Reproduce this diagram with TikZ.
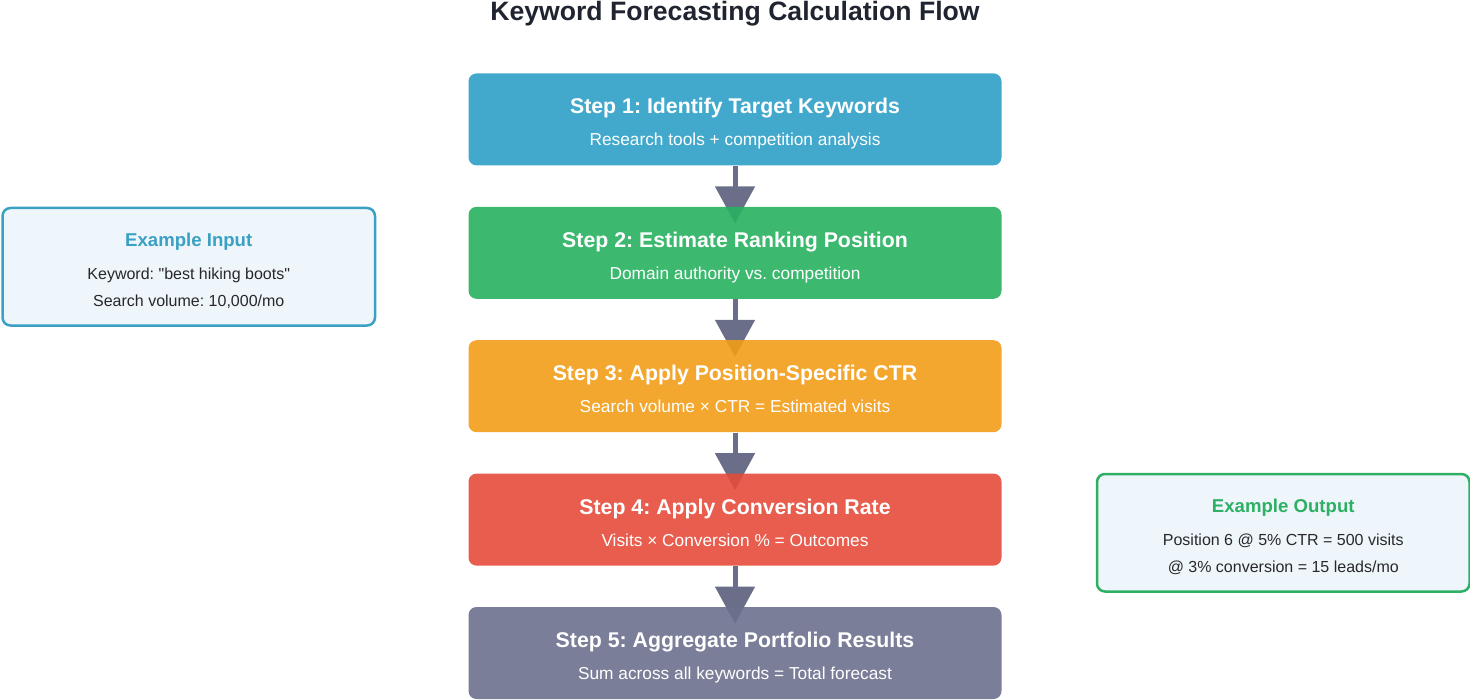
\documentclass[tikz,border=0pt]{standalone}
\usepackage{fontspec}
\setmainfont{Liberation Sans}
\usepackage{tikz}
\usetikzlibrary{arrows.meta}
\usetikzlibrary{positioning}
\pgfdeclarelayer{back}
\pgfsetlayers{back,main}
\frenchspacing
\definecolor{stepone}{RGB}{45,160,199}
\definecolor{steptwo}{RGB}{39,177,95}
\definecolor{stepthree}{RGB}{242,157,23}
\definecolor{stepfour}{RGB}{229,75,58}
\definecolor{stepfive}{RGB}{108,112,141}
\definecolor{arrowgray}{RGB}{106,110,136}
\definecolor{sidefill}{RGB}{239,246,251}
\definecolor{inputblue}{RGB}{58,160,196}
\definecolor{outputgreen}{RGB}{46,176,100}
\definecolor{titleink}{RGB}{31,36,48}
\definecolor{sideink}{RGB}{40,40,44}
\tikzset{
    stepbox/.style={rounded corners=4pt, minimum width=266.5pt, minimum height=46pt, inner sep=0pt, fill opacity=0.9},
    steptitle/.style={anchor=base, text=white, font=\bfseries\fontsize{10.65}{12}\selectfont},
    stepnote/.style={anchor=base, text=white, font=\fontsize{8.65}{10}\selectfont},
    sidebox/.style={rounded corners=4pt, line width=1.25pt, fill=sidefill, minimum width=186.25pt, minimum height=58.75pt, inner sep=0pt},
    sidetitle/.style={anchor=base, font=\bfseries\fontsize{9.3}{11}\selectfont},
    sidenote/.style={anchor=base, text=sideink, font=\fontsize{8}{10}\selectfont},
    flowarrow/.style={draw=arrowgray, line width=2.5pt, -{Triangle[width=19.5pt, length=18.5pt]}}
}

\begin{document}
\begin{tikzpicture}[x=0.5pt, y=-0.5pt]
        \useasboundingbox (0,0) rectangle (1470,700);
        \node[anchor=base, text=titleink, font=\bfseries\fontsize{13.3}{15}\selectfont] (title) at (735,21) {Keyword Forecasting Calculation Flow};
        % the five steps
        \node[stepbox, fill=stepone, anchor=north] (s1) at (735,73) {};
        \node[stepbox, fill=steptwo, below=20.3pt of s1] (s2) {};
        \node[stepbox, fill=stepthree, below=20.3pt of s2] (s3) {};
        \node[stepbox, fill=stepfour, below=20.3pt of s3] (s4) {};
        \node[stepbox, fill=stepfive, below=20.3pt of s4] (s5) {};
        \foreach \s/\t/\n in {s1/{Step 1: Identify Target Keywords}/{Research tools + competition analysis},
                s2/{Step 2: Estimate Ranking Position}/{Domain authority vs. competition},
                s3/{Step 3: Apply Position-Specific CTR}/{Search volume × CTR = Estimated visits},
                s4/{Step 4: Apply Conversion Rate}/{Visits × Conversion \% = Outcomes},
                s5/{Step 5: Aggregate Portfolio Results}/{Sum across all keywords = Total forecast}} {
            \node[steptitle] (\s-title) at ([yshift=-20.5pt]\s.north) {\t};
            \node[stepnote] (\s-note) at ([yshift=-36.5pt]\s.north) {\n};
        }
        \begin{pgfonlayer}{back}
            \foreach \a/\b in {s1/s2, s2/s3, s3/s4, s4/s5}
                \draw[flowarrow] (\a.south) -- ([yshift=-8.5pt]\b.north);
        \end{pgfonlayer}
        % example boxes
        \node[sidebox, draw=inputblue, anchor=north west] (input) at (1.25,206.75) {};
        \node[sidetitle, text=inputblue] (input-title) at ([yshift=-20.1pt]input.north) {Example Input};
        \node[sidenote] (input-a) at ([yshift=-36.6pt]input.north) {Keyword: \textquotedbl best hiking boots\textquotedbl};
        \node[sidenote] (input-b) at ([yshift=-50.1pt]input.north) {Search volume: 10,000/mo};
        \node[sidebox, draw=outputgreen, anchor=north west] (output) at (1095.75,472.75) {};
        \node[sidetitle, text=outputgreen] (output-title) at ([yshift=-20.1pt]output.north) {Example Output};
        \node[sidenote] (output-a) at ([yshift=-36.6pt]output.north) {Position 6 @ 5\% CTR = 500 visits};
        \node[sidenote] (output-b) at ([yshift=-50.1pt]output.north) {@ 3\% conversion = 15 leads/mo};
\end{tikzpicture}
\end{document}
